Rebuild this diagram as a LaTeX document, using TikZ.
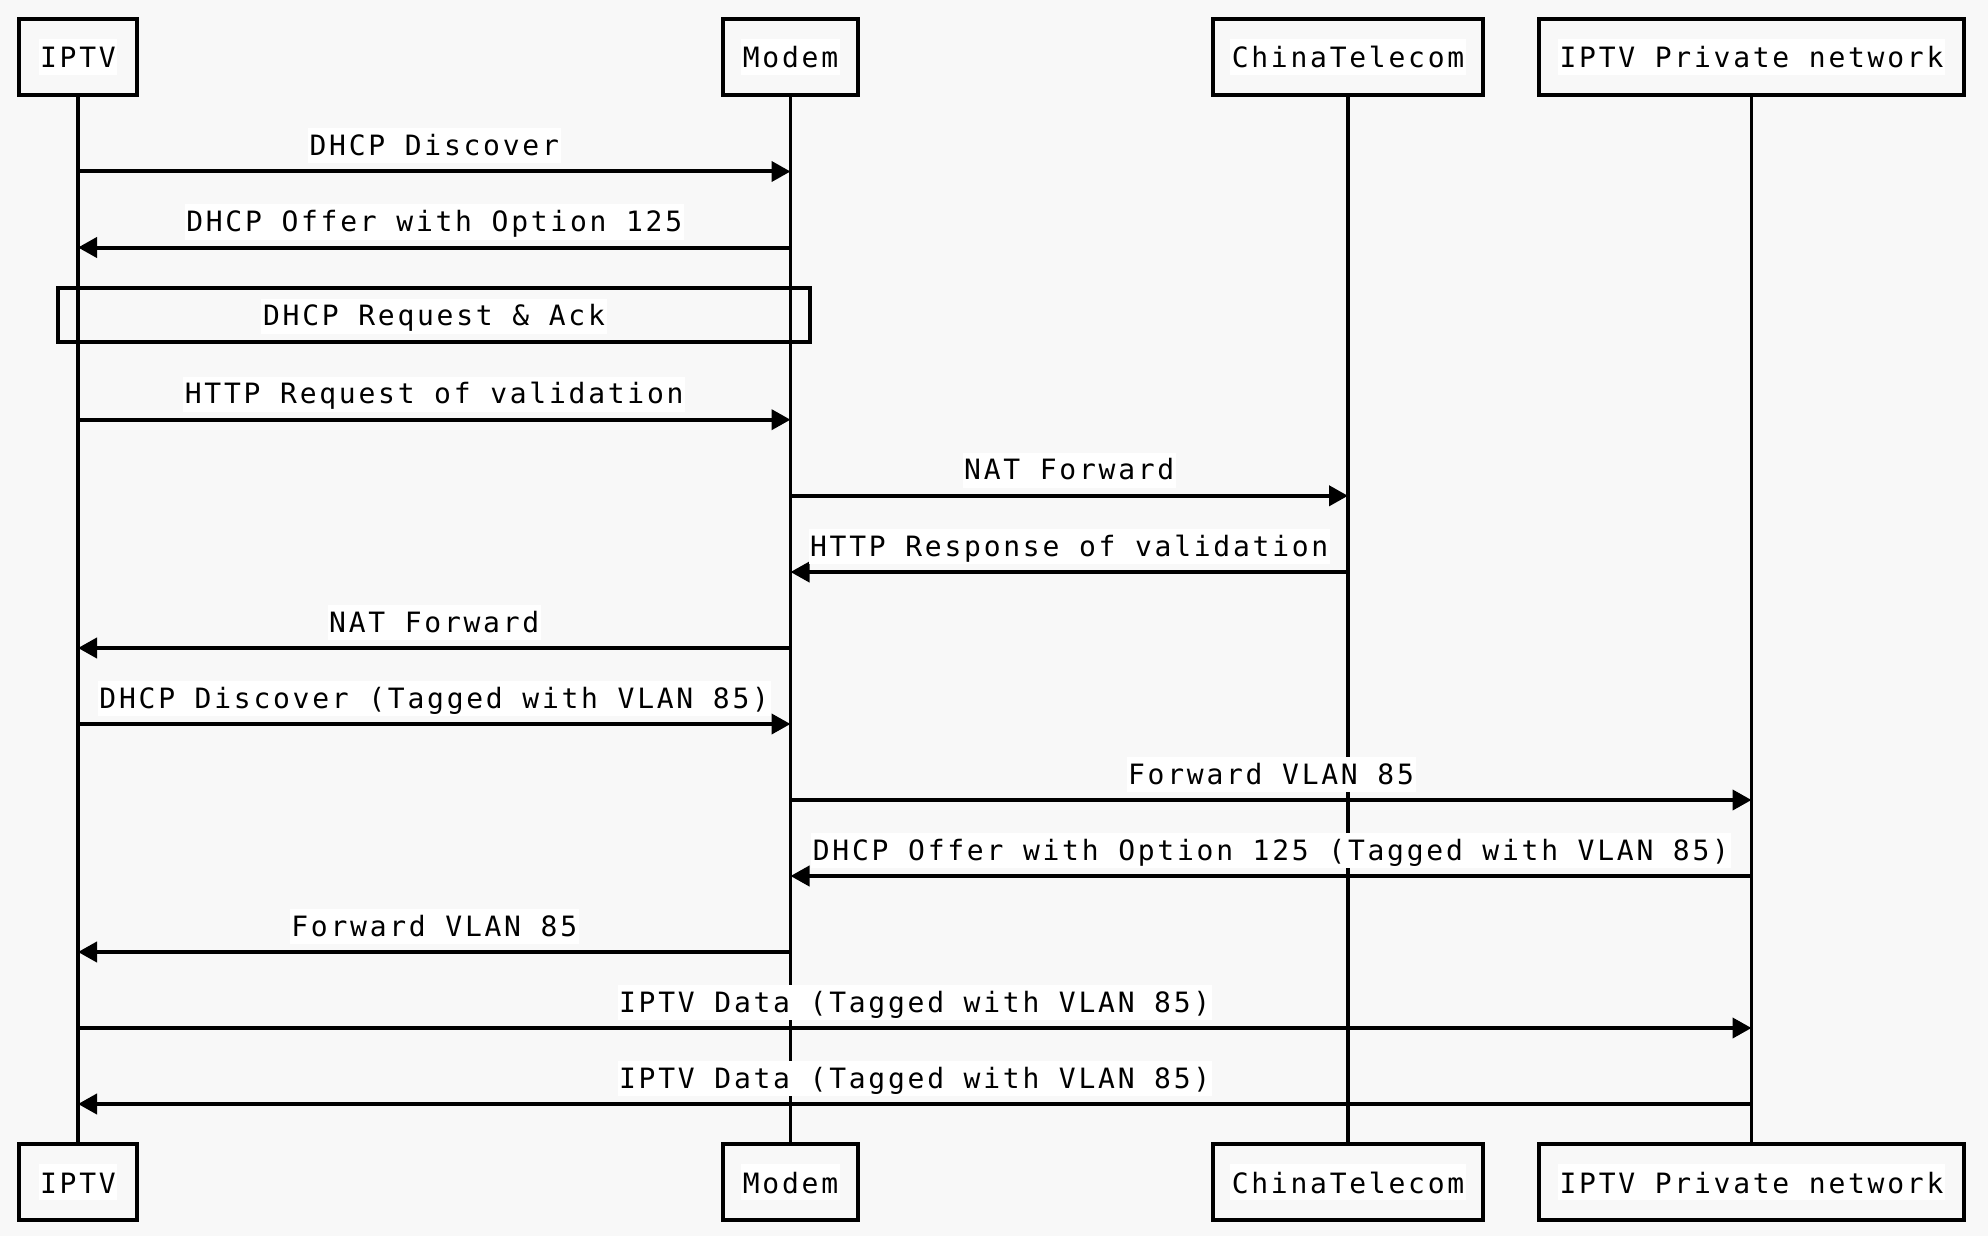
\documentclass[tikz,border=0pt]{standalone}
\usepackage{fontspec}
\setmainfont{DejaVu Sans Mono}[LetterSpace=9.8]
\usetikzlibrary{arrows.meta}
\definecolor{bgc}{RGB}{248,248,248}
\begin{document}
\begin{tikzpicture}[x=0.5pt,y=-0.5pt,
  font=\fontsize{14pt}{16pt}\selectfont,
  actor/.style={draw=black, line width=2pt, minimum height=38pt, inner sep=0pt,
     font=\fontsize{14pt}{16pt}\selectfont},
  wtext/.style={fill=white, inner xsep=0.8pt, inner ysep=0pt, text height=14.5pt, text depth=3.5pt},
  life/.style={line width=1.6pt},
  msg/.style={line width=2pt, -{Triangle[length=9.5pt,width=10pt]}},
  lbl/.style={fill=white, inner xsep=0.8pt, inner ysep=0pt, text height=13.5pt, text depth=4pt, anchor=base},
  frame/.style={draw=black, line width=2pt, minimum width=376pt, minimum height=27pt, inner sep=0pt}
]
\fill[bgc] (0,0) rectangle (1988,1236);
\useasboundingbox (0,0) rectangle (1988,1236);

% top actors
\node[actor, minimum width=59pt]    (t1) at (78,57)     {};
\node[actor, minimum width=67.5pt]  (t2) at (790.5,57)  {};
\node[actor, minimum width=135pt]   (t3) at (1348,57)   {};
\node[actor, minimum width=212.5pt] (t4) at (1751.5,57) {};
% bottom actors
\node[actor, minimum width=59pt]    (b1) at (78,1182)     {};
\node[actor, minimum width=67.5pt]  (b2) at (790.5,1182)  {};
\node[actor, minimum width=135pt]   (b3) at (1348,1182)   {};
\node[actor, minimum width=212.5pt] (b4) at (1751.5,1182) {};

% lifelines
\foreach \i in {1,2,3,4} \draw[life] (t\i.south) -- (b\i.north);

% actor labels
\foreach \i/\t in {1/IPTV,2/Modem,3/ChinaTelecom,4/IPTV Private network}{
  \node[wtext] (tl\i) at (t\i) {\t};
  \node[wtext] (bl\i) at (b\i) {\t};
}

% DHCP Request & Ack frame
\node[frame] (req) at (434,315) {};
\node[wtext, text height=13.5pt, text depth=4pt] (reqt) at (434,316) {DHCP Request \& Ack};

% messages
\newcommand{\msgline}[4]{%
  \draw[msg] (#1 |- 0,#3) -- (#2 |- 0,#3)
    node[midway, lbl, yshift=8pt] {#4};
}
\msgline{t1}{t2}{171.5}{DHCP Discover}
\msgline{t2}{t1}{247.5}{DHCP Offer with Option 125}
\msgline{t1}{t2}{419.7}{HTTP Request of validation}
\msgline{t2}{t3}{495.8}{NAT Forward}
\msgline{t3}{t2}{572}{HTTP Response of validation}
\msgline{t2}{t1}{648}{NAT Forward}
\msgline{t1}{t2}{724}{DHCP Discover (Tagged with VLAN 85)}
\msgline{t2}{t4}{800}{Forward VLAN 85}
\msgline{t4}{t2}{876}{DHCP Offer with Option 125 (Tagged with VLAN 85)}
\msgline{t2}{t1}{952}{Forward VLAN 85}
\msgline{t1}{t4}{1028}{IPTV Data (Tagged with VLAN 85)}
\msgline{t4}{t1}{1104}{IPTV Data (Tagged with VLAN 85)}
\end{tikzpicture}
\end{document}
